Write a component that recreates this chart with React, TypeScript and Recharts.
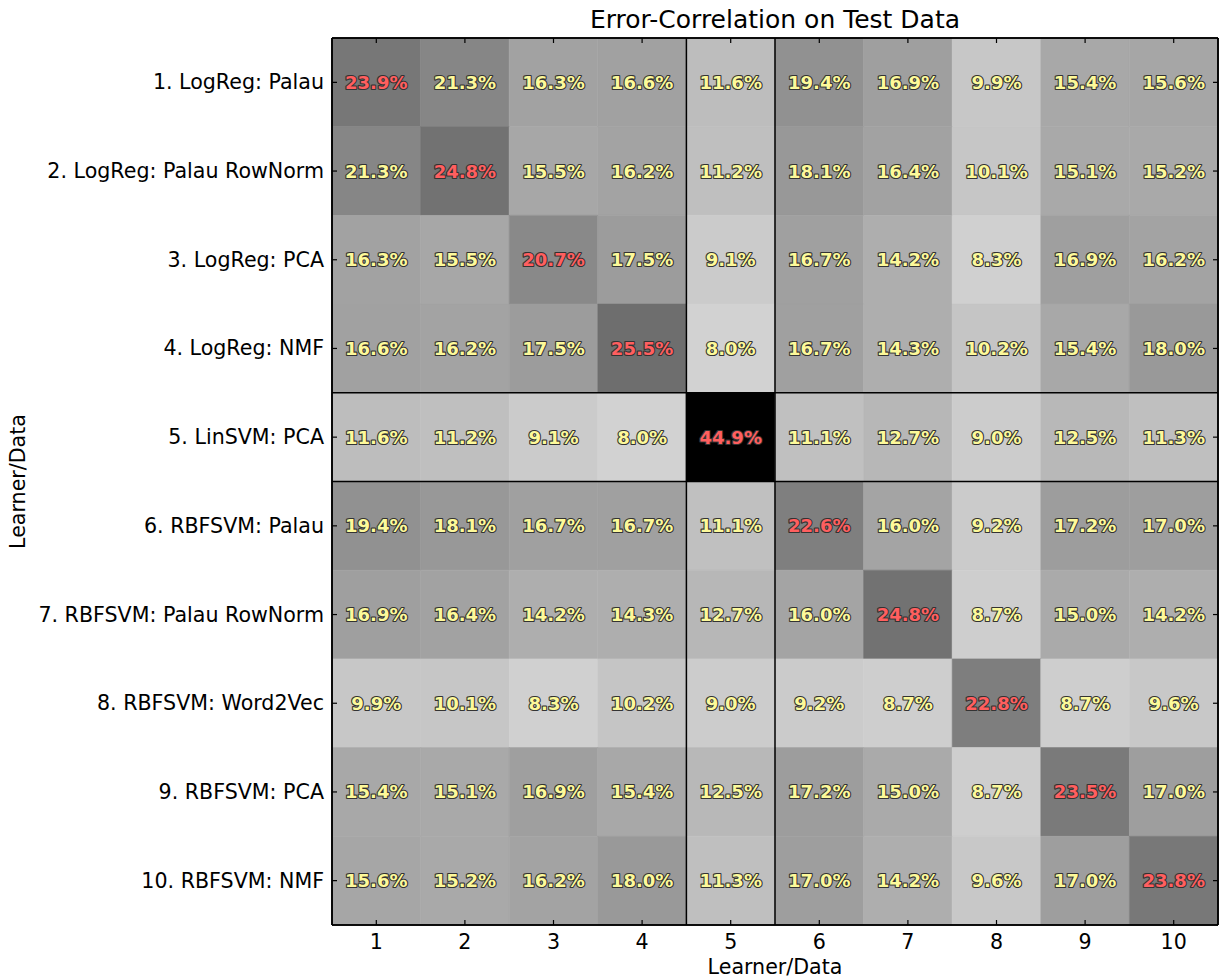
import React from "react";
import {
  ScatterChart,
  Scatter,
  XAxis,
  YAxis,
  ReferenceArea,
  ReferenceLine,
} from "recharts";

const learners = [
  "1. LogReg: Palau",
  "2. LogReg: Palau RowNorm",
  "3. LogReg: PCA",
  "4. LogReg: NMF",
  "5. LinSVM: PCA",
  "6. RBFSVM: Palau",
  "7. RBFSVM: Palau RowNorm",
  "8. RBFSVM: Word2Vec",
  "9. RBFSVM: PCA",
  "10. RBFSVM: NMF",
];

const columnTicks = [1, 2, 3, 4, 5, 6, 7, 8, 9, 10];

// error correlation (%), one row per learner
const row1 = [23.9, 21.3, 16.3, 16.6, 11.6, 19.4, 16.9, 9.9, 15.4, 15.6];
const row2 = [21.3, 24.8, 15.5, 16.2, 11.2, 18.1, 16.4, 10.1, 15.1, 15.2];
const row3 = [16.3, 15.5, 20.7, 17.5, 9.1, 16.7, 14.2, 8.3, 16.9, 16.2];
const row4 = [16.6, 16.2, 17.5, 25.5, 8.0, 16.7, 14.3, 10.2, 15.4, 18.0];
const row5 = [11.6, 11.2, 9.1, 8.0, 44.9, 11.1, 12.7, 9.0, 12.5, 11.3];
const row6 = [19.4, 18.1, 16.7, 16.7, 11.1, 22.6, 16.0, 9.2, 17.2, 17.0];
const row7 = [16.9, 16.4, 14.2, 14.3, 12.7, 16.0, 24.8, 8.7, 15.0, 14.2];
const row8 = [9.9, 10.1, 8.3, 10.2, 9.0, 9.2, 8.7, 22.8, 8.7, 9.6];
const row9 = [15.4, 15.1, 16.9, 15.4, 12.5, 17.2, 15.0, 8.7, 23.5, 17.0];
const row10 = [15.6, 15.2, 16.2, 18.0, 11.3, 17.0, 14.2, 9.6, 17.0, 23.8];

const rows = [row1, row2, row3, row4, row5, row6, row7, row8, row9, row10];

// separators around learner 5
const dividers = [4.5, 5.5];

const FONT = "DejaVu Sans, sans-serif";
const W = 1220;
const H = 977;
const LEFT_W = 332;
const RIGHT_W = 2;
const TOP_H = 38;
const BOTTOM_H = 52;
const GAP = 8;
const TICK_LEN = 5;

// half a cell in pixels, from the plot size
const halfW = (W - LEFT_W - RIGHT_W) / 20;
const halfH = (H - TOP_H - BOTTOM_H) / 20;

const vmax = Math.max(...rows.flat());
const grayFor = (v: number) => {
  const g = Math.round(255 * (1 - v / vmax));
  return `rgb(${g},${g},${g})`;
};

const n = rows.length;
const cells = rows.flatMap((r, i) =>
  r.map((v, j) => ({ x: j + 1, y: i + 1, v, diag: i === j }))
);

// label in each cell; cells on the border also carry the inward tick marks
const CellLabel = (props: any) => {
  const { cx, cy, payload } = props;
  const ticks: string[] = [];
  if (payload.y === 1) ticks.push(`M${cx},${cy - halfH}v${TICK_LEN}`);
  if (payload.y === n) ticks.push(`M${cx},${cy + halfH}v${-TICK_LEN}`);
  if (payload.x === 1) ticks.push(`M${cx - halfW},${cy}h${TICK_LEN}`);
  if (payload.x === n) ticks.push(`M${cx + halfW},${cy}h${-TICK_LEN}`);
  return (
    <g>
      {ticks.length > 0 && (
        <path d={ticks.join("")} stroke="#000" strokeWidth={1.2} fill="none" />
      )}
      <text
        x={cx}
        y={cy}
        textAnchor="middle"
        dominantBaseline="central"
        fontFamily={FONT}
        fontWeight="bold"
        fontSize={18}
        fill={payload.diag ? "#ff5f5f" : "#fdf99a"}
        stroke="#333"
        strokeWidth={2.2}
        strokeLinejoin="round"
        paintOrder="stroke"
      >
        {payload.v.toFixed(1)}%
      </text>
    </g>
  );
};

const BottomTick = ({ x, y, payload }: any) => (
  <text x={x} y={y + 16} textAnchor="middle" fontFamily={FONT} fontSize={20.6} fill="#000">
    {payload.value}
  </text>
);

const LeftTick = ({ x, y, payload }: any) => (
  <text x={x} y={y} textAnchor="end" dominantBaseline="central" fontFamily={FONT} fontSize={20.6} fill="#000">
    {learners[payload.value - 1]}
  </text>
);

export default function App() {
  return (
    <div style={{ position: "absolute", left: 0, top: 0, width: W, height: H, background: "#fff" }}>
      <ScatterChart
        width={W}
        height={H}
        margin={{ top: 0, right: 0, bottom: 0, left: 0 }}
      >
        <XAxis
          type="number"
          dataKey="x"
          domain={[0.5, 10.5]}
          ticks={columnTicks}
          allowDataOverflow
          height={BOTTOM_H}
          tickSize={0}
          tickMargin={GAP}
          tickLine={false}
          tick={BottomTick}
          stroke="#000"
          strokeWidth={1.5}
          label={{ value: "Learner/Data", position: "insideBottom", offset: 3, fill: "#000", fontSize: 20.6, fontFamily: FONT }}
        />
        <XAxis
          xAxisId="top"
          orientation="top"
          type="number"
          dataKey="x"
          domain={[0.5, 10.5]}
          ticks={columnTicks}
          allowDataOverflow
          height={TOP_H}
          tickLine={false}
          tick={false}
          stroke="#000"
          strokeWidth={1.5}
          label={{ value: "Error-Correlation on Test Data", position: "insideTop", offset: 10, fill: "#000", fontSize: 25, fontFamily: FONT }}
        />
        <YAxis
          type="number"
          dataKey="y"
          domain={[0.5, 10.5]}
          ticks={columnTicks}
          reversed
          allowDataOverflow
          width={LEFT_W}
          tickSize={0}
          tickMargin={GAP}
          tickLine={false}
          tick={LeftTick}
          stroke="#000"
          strokeWidth={1.5}
          label={{ value: "Learner/Data", angle: -90, position: "insideLeft", offset: 18, fill: "#000", fontSize: 20.6, fontFamily: FONT, style: { textAnchor: "middle" } }}
        />
        <YAxis
          yAxisId="right"
          orientation="right"
          type="number"
          dataKey="y"
          domain={[0.5, 10.5]}
          ticks={columnTicks}
          reversed
          allowDataOverflow
          width={RIGHT_W}
          tickLine={false}
          tick={false}
          stroke="#000"
          strokeWidth={1.5}
        />
        {cells.map((c) => (
          <ReferenceArea
            key={`a${c.x}-${c.y}`}
            x1={c.x - 0.5}
            x2={c.x + 0.5}
            y1={c.y - 0.5}
            y2={c.y + 0.5}
            fill={grayFor(c.v)}
            fillOpacity={1}
            stroke={grayFor(c.v)}
            strokeWidth={0.6}
            ifOverflow="visible"
          />
        ))}
        {dividers.map((d) => (
          <ReferenceLine key={`v${d}`} x={d} stroke="#000" strokeWidth={1.5} />
        ))}
        {dividers.map((d) => (
          <ReferenceLine key={`h${d}`} y={d} stroke="#000" strokeWidth={1.5} />
        ))}
        {/* plot frame */}
        <ReferenceLine x={0.5} stroke="#000" strokeWidth={1.6} ifOverflow="visible" />
        <ReferenceLine x={10.5} stroke="#000" strokeWidth={1.6} ifOverflow="visible" />
        <ReferenceLine y={0.5} stroke="#000" strokeWidth={1.6} ifOverflow="visible" />
        <ReferenceLine y={10.5} stroke="#000" strokeWidth={1.6} ifOverflow="visible" />
        <Scatter data={cells} shape={CellLabel} isAnimationActive={false} />
      </ScatterChart>
    </div>
  );
}
